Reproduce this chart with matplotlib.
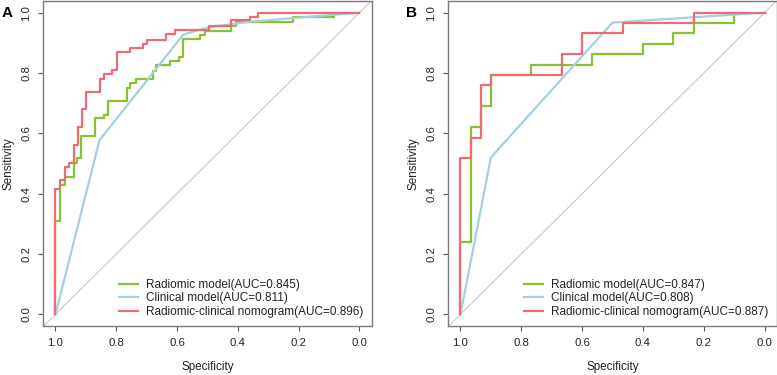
import matplotlib

matplotlib.use("Agg")
import matplotlib.pyplot as plt

plt.rcParams["font.family"] = ["Liberation Sans", "DejaVu Sans"]

# ROC corner points: (specificity, sensitivity)
# panel A - training set
a_radiomic_spec = [1.0, 1.0, 0.984, 0.969, 0.940, 0.929, 0.915, 0.871, 0.841, 0.827, 0.766,
                   0.756, 0.736, 0.679, 0.668, 0.624, 0.594, 0.580, 0.526, 0.507, 0.421, 0.405,
                   0.218, 0.085]
a_radiomic_sens = [0.0, 0.309, 0.430, 0.456, 0.502, 0.517, 0.590, 0.650, 0.662, 0.706, 0.750,
                   0.766, 0.780, 0.808, 0.825, 0.840, 0.854, 0.912, 0.926, 0.940, 0.957, 0.969,
                   0.985, 0.985]
a_clinical_spec = [1.0, 0.855, 0.580, 0.499, 0.36, 0.0]
a_clinical_sens = [0.0, 0.577, 0.927, 0.951, 0.970, 1.0]
a_nomogram_spec = [1.0, 1.0, 0.984, 0.969, 0.955, 0.940, 0.926, 0.912, 0.898, 0.854, 0.840,
                   0.813, 0.796, 0.754, 0.712, 0.699, 0.637, 0.608, 0.495, 0.421, 0.361, 0.334,
                   0.0]
a_nomogram_sens = [0.0, 0.414, 0.445, 0.488, 0.502, 0.561, 0.620, 0.679, 0.737, 0.779, 0.795,
                   0.810, 0.869, 0.882, 0.896, 0.910, 0.929, 0.944, 0.957, 0.974, 0.987, 1.0,
                   1.0]

# panel B - validation set
b_radiomic_spec = [1.0, 1.0, 0.967, 0.933, 0.900, 0.767, 0.567, 0.400, 0.300, 0.233, 0.100]
b_radiomic_sens = [0.0, 0.241, 0.621, 0.690, 0.793, 0.828, 0.862, 0.897, 0.931, 0.966, 0.990]
b_clinical_spec = [1.0, 0.900, 0.500, 0.0]
b_clinical_sens = [0.0, 0.520, 0.967, 1.0]
b_nomogram_spec = [1.0, 1.0, 0.967, 0.933, 0.900, 0.667, 0.600, 0.467, 0.233, 0.0]
b_nomogram_sens = [0.0, 0.517, 0.586, 0.759, 0.793, 0.862, 0.931, 0.966, 1.0, 1.0]

auc_a = ["0.845", "0.811", "0.896"]
auc_b = ["0.847", "0.808", "0.887"]
names = ["Radiomic model", "Clinical model", "Radiomic-clinical nomogram"]
colors = ["#86c232", "#a6d0e2", "#ea6d72"]
ticks = [1.0, 0.8, 0.6, 0.4, 0.2, 0.0]

fig = plt.figure(figsize=(7.77, 3.75), dpi=100)
ax_a = fig.add_axes([0.0557, 0.1295, 0.4226, 0.869])
ax_b = fig.add_axes([0.577, 0.1295, 0.4226, 0.869])

panels = [
    (ax_a, "A", auc_a,
     [(a_radiomic_spec, a_radiomic_sens), (a_clinical_spec, a_clinical_sens),
      (a_nomogram_spec, a_nomogram_sens)]),
    (ax_b, "B", auc_b,
     [(b_radiomic_spec, b_radiomic_sens), (b_clinical_spec, b_clinical_sens),
      (b_nomogram_spec, b_nomogram_sens)]),
]

for ax, letter, aucs, curves in panels:
    ax.axline((1.0, 0.0), (0.0, 1.0), color="#c8c8c8", lw=0.8, zorder=1)
    for i, (sp, se) in enumerate(curves):
        ds = "default" if i == 1 else "steps-post"
        ax.plot(sp, se, color=colors[i], lw=1.6, drawstyle=ds,
                label=f"{names[i]}(AUC={aucs[i]})", zorder=2 + i)

    ax.set_xlim(1.04, -0.04)
    ax.set_ylim(-0.04, 1.04)
    ax.set_xticks(ticks)
    ax.set_yticks(ticks)
    ax.set_xticklabels([f"{t:.1f}" for t in ticks])
    ax.set_yticklabels([f"{t:.1f}" for t in ticks], rotation=90, va="center")
    ax.tick_params(length=3.5, width=0.8, color="#555555", labelsize=8.2,
                   labelcolor="#222222", pad=5.0)
    for s in ax.spines.values():
        s.set_color("#7a7a7a")
        s.set_linewidth(1.0)
    ax.set_xlabel("Specificity", fontsize=8.4, color="#222222", labelpad=9)
    ax.set_ylabel("Sensitivity", fontsize=8.4, color="#222222", labelpad=5)

    leg = ax.legend(loc="lower right", frameon=False, fontsize=8.5, handlelength=1.6,
                    handletextpad=0.7, labelspacing=0.15, borderaxespad=0.3)
    for t in leg.get_texts():
        t.set_color("#222222")

    bb = ax.get_position()
    fig.text(bb.x0 - 0.054, 0.985, letter, fontsize=11, fontweight="bold",
             ha="left", va="top")

fig.savefig("out.png", dpi=100)
